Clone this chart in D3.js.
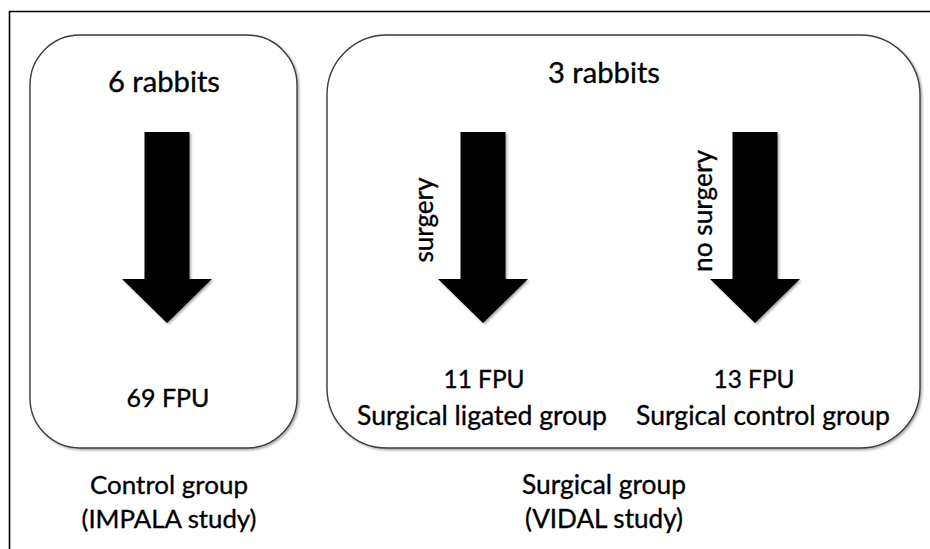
<!DOCTYPE html>
<html>
<head>
<meta charset="utf-8">
<script src="https://cdn.jsdelivr.net/npm/d3@7"></script>
<style>
  html, body { margin: 0; padding: 0; background: #fff; }
  svg { display: block; }
  text { font-family: Lato, "Open Sans", sans-serif; fill: #000; stroke: #000; stroke-width: 0.35; }
</style>
</head>
<body>
<svg id="chart" width="930" height="549"></svg>
<script>
// ---- data ----
const groupTitles = ["6 rabbits", "3 rabbits"];
const groupLabels = [["Control group", "(IMPALA study)"], ["Surgical group", "(VIDAL study)"]];
const arrowLabels = ["", "surgery", "no surgery"];
const fpuValues = [69, 11, 13];
const outcomeNames = ["", "Surgical ligated group", "Surgical control group"];

// ---- layout ----
const svg = d3.select("#chart");
const defs = svg.append("defs");
const f = defs.append("filter").attr("id", "sh").attr("x", "-10%").attr("y", "-10%").attr("width", "130%").attr("height", "130%");
f.append("feDropShadow").attr("dx", 1.5).attr("dy", 1.5).attr("stdDeviation", 1.2).attr("flood-color", "#000").attr("flood-opacity", 0.35);

// fit a text element's font size to a target width
function fit(sel, widthFn) {
  sel.each(function(d, i) {
    const el = d3.select(this);
    const base = 24;
    el.attr("font-size", base);
    const w = this.getComputedTextLength();
    const target = widthFn(d, i);
    if (w > 0 && target) el.attr("font-size", (base * target / w).toFixed(2));
  });
}

// outer frame (left and top lines)
svg.append("path").attr("d", "M9.5,549 L9.5,11.5 L930,11.5").attr("fill", "none").attr("stroke", "#000").attr("stroke-width", 1.6);

// boxes
const boxes = [
  {x: 30, y: 35, w: 267, h: 413, r: 50},
  {x: 327, y: 35, w: 593, h: 413, r: 60}
];
svg.selectAll("rect.box").data(boxes).join("rect")
  .attr("class", "box")
  .attr("x", d => d.x).attr("y", d => d.y).attr("width", d => d.w).attr("height", d => d.h)
  .attr("rx", d => d.r).attr("ry", d => d.r)
  .attr("fill", "#fff").attr("stroke", "#3c3c3c").attr("stroke-width", 1.4)
  .attr("filter", "url(#sh)");

// titles
const titlePos = [{x: 164, y: 92, w: 112}, {x: 604, y: 83, w: 112}];
svg.selectAll("text.title").data(groupTitles).join("text")
  .attr("class", "title")
  .attr("x", (d, i) => titlePos[i].x).attr("y", (d, i) => titlePos[i].y)
  .attr("text-anchor", "middle").text(d => d)
  .call(fit, (d, i) => titlePos[i].w);

// arrows via scales
const ax = d3.scaleOrdinal().domain([0, 1, 2]).range([167, 483, 755]);
const ay = d3.scaleLinear().domain([0, 1]).range([132, 323]);
const shaftHalf = 22.5, headHalf = 45, headBase = ay(0.77);
function arrowPath(cx) {
  return `M${cx - shaftHalf},${ay(0)} L${cx + shaftHalf},${ay(0)} L${cx + shaftHalf},${headBase} L${cx + headHalf},${headBase} L${cx},${ay(1)} L${cx - headHalf},${headBase} L${cx - shaftHalf},${headBase} Z`;
}
svg.selectAll("path.arrow").data(fpuValues).join("path")
  .attr("class", "arrow")
  .attr("d", (d, i) => arrowPath(ax(i)))
  .attr("fill", "#000")
  .attr("filter", "url(#sh)");

// arrow labels (rotated)
const labelPos = [null, {x: 433, y: 220, w: 85}, {x: 712, y: 211, w: 122}];
svg.selectAll("text.alab").data(arrowLabels.map((t, i) => ({t, i})).filter(d => d.t)).join("text")
  .attr("class", "alab")
  .attr("transform", d => `translate(${labelPos[d.i].x},${labelPos[d.i].y}) rotate(-90)`)
  .attr("text-anchor", "middle").text(d => d.t)
  .call(fit, d => labelPos[d.i].w);

// FPU values
const fpuPos = [{x: 168, y: 407, w: 83}, {x: 484, y: 388, w: 81}, {x: 754, y: 388, w: 81}];
svg.selectAll("text.fpu").data(fpuValues).join("text")
  .attr("class", "fpu")
  .attr("x", (d, i) => fpuPos[i].x).attr("y", (d, i) => fpuPos[i].y)
  .attr("text-anchor", "middle").text(d => `${d} FPU`)
  .call(fit, (d, i) => fpuPos[i].w);

// outcome names
const outPos = [null, {x: 482, y: 425, w: 250}, {x: 763, y: 425, w: 254}];
svg.selectAll("text.out").data(outcomeNames.map((t, i) => ({t, i})).filter(d => d.t)).join("text")
  .attr("class", "out")
  .attr("x", d => outPos[d.i].x).attr("y", d => outPos[d.i].y)
  .attr("text-anchor", "middle").text(d => d.t)
  .call(fit, d => outPos[d.i].w);

// group labels below boxes
const glx = [169, 604];
const glY = [494, 528];
const glW = [[158, 175], [164, 158]];
groupLabels.forEach((lines, i) => {
  svg.selectAll(`text.gl${i}`).data(lines).join("text")
    .attr("class", `gl${i}`)
    .attr("x", glx[i]).attr("y", (d, j) => glY[j])
    .attr("text-anchor", "middle").text(d => d)
    .call(fit, (d, j) => glW[i][j]);
});
</script>
</body>
</html>
